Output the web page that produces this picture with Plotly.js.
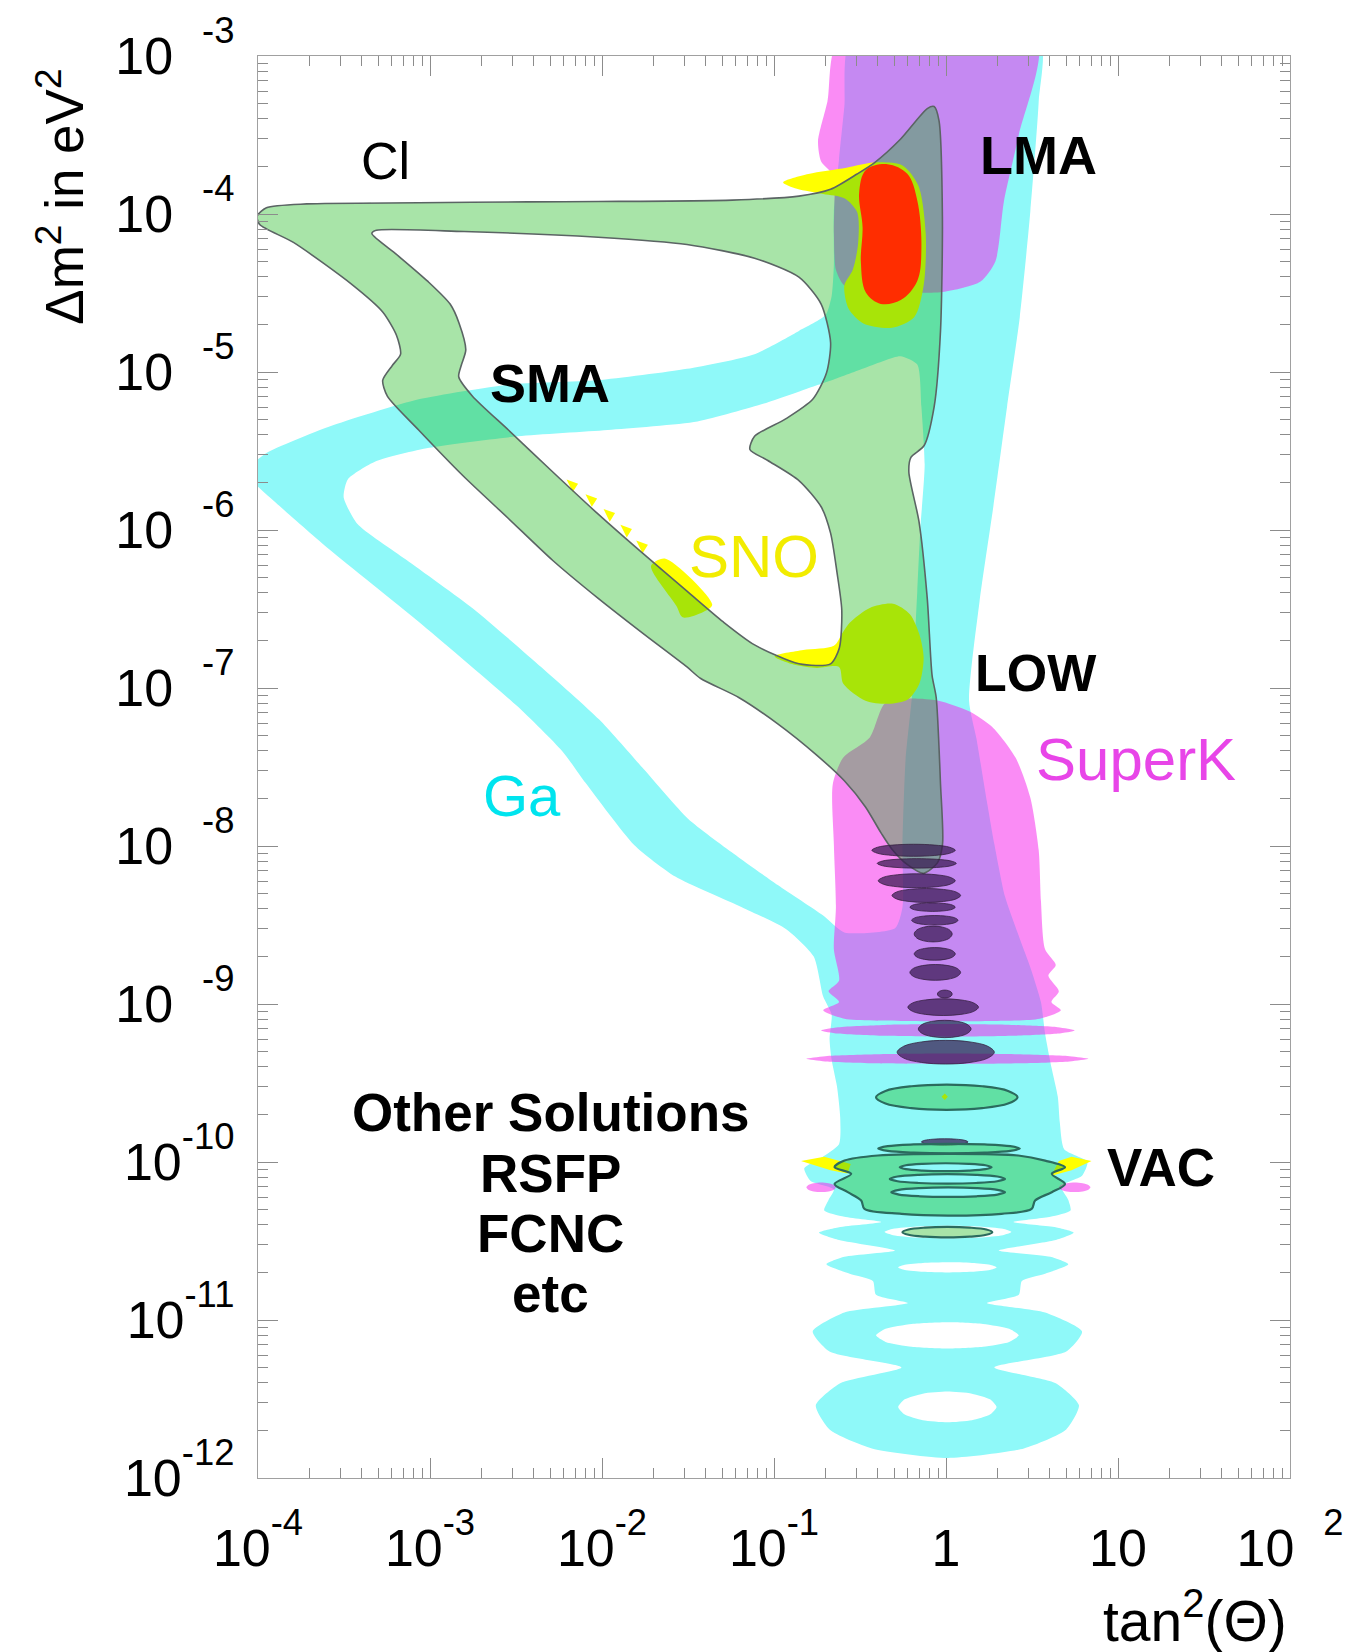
<!DOCTYPE html>
<html><head><meta charset="utf-8">
<script src="https://cdn.plot.ly/plotly-3.0.1.min.js"></script>
<style>html,body{margin:0;padding:0;background:#fff}.js-fill{fill-rule:evenodd !important}</style>
</head><body><div id="chart" style="width:1349px;height:1652px"></div>
<script>
// ---------- DATA (log10 of tan^2(theta), log10 of dm^2 in eV^2) ----------
const EXP = (e) => '<sup><span style="baseline-shift:9px">' + e + '</span></sup>';
const xTickVals = [1e-4, 1e-3, 1e-2, 1e-1, 1, 10, 100];
const xTickText = ['10' + EXP('-4'), '10' + EXP('-3'), '10' + EXP('-2'), '10' + EXP('-1'), '1', '10', '10\u00a0\u00a0' + EXP('2')];
const yTickVals = [1e-12, 1e-11, 1e-10, 1e-9, 1e-8, 1e-7, 1e-6, 1e-5, 1e-4, 1e-3];
const yTickText = ['10' + EXP('-12'), '10' + EXP('-11'), '10' + EXP('-10'), '10\u00a0\u00a0' + EXP('-9'), '10\u00a0\u00a0' + EXP('-8'),
  '10\u00a0\u00a0' + EXP('-7'), '10\u00a0\u00a0' + EXP('-6'), '10\u00a0\u00a0' + EXP('-5'), '10\u00a0\u00a0' + EXP('-4'), '10\u00a0\u00a0' + EXP('-3')];

// Ga (cyan) allowed region: outer contour
const gaOuter = [[-0.554,-2.9],[0.545,-2.9],[0.539,-3.287],[0.490,-3.987],[0.429,-4.653],[0.355,-5.220],[0.275,-5.853],[0.195,-6.453],[0.134,-7.080],[0.177,-7.320],[0.238,-7.720],[0.281,-7.987],[0.343,-8.320],[0.429,-8.587],[0.490,-8.767],[0.552,-8.987],[0.576,-9.187],[0.613,-9.400],[0.650,-9.587],[0.662,-9.753],[0.687,-9.920],[0.822,-10.000],[0.791,-10.087],[0.668,-10.153],[0.711,-10.240],[0.724,-10.307],[0.607,-10.347],[0.392,-10.380],[0.638,-10.413],[0.742,-10.447],[0.638,-10.493],[0.306,-10.560],[0.607,-10.600],[0.711,-10.647],[0.576,-10.707],[0.441,-10.753],[0.423,-10.840],[0.238,-10.893],[0.576,-10.953],[0.791,-11.073],[0.699,-11.200],[0.281,-11.300],[0.638,-11.400],[0.773,-11.540],[0.699,-11.693],[0.453,-11.813],[0.011,-11.873],[-0.431,-11.813],[-0.677,-11.693],[-0.757,-11.540],[-0.615,-11.400],[-0.259,-11.300],[-0.677,-11.200],[-0.775,-11.073],[-0.591,-10.953],[-0.222,-10.893],[-0.407,-10.840],[-0.425,-10.753],[-0.560,-10.707],[-0.695,-10.647],[-0.591,-10.600],[-0.296,-10.560],[-0.622,-10.493],[-0.738,-10.447],[-0.622,-10.413],[-0.376,-10.380],[-0.591,-10.347],[-0.708,-10.307],[-0.683,-10.240],[-0.652,-10.173],[-0.787,-10.120],[-0.824,-10.040],[-0.726,-9.973],[-0.622,-9.887],[-0.615,-9.720],[-0.634,-9.520],[-0.665,-9.353],[-0.677,-9.220],[-0.665,-9.067],[-0.714,-8.953],[-0.769,-8.700],[-0.929,-8.527],[-1.187,-8.387],[-1.574,-8.193],[-1.813,-7.993],[-2.096,-7.600],[-2.231,-7.400],[-2.495,-7.113],[-3.066,-6.580],[-3.588,-6.120],[-3.896,-5.827],[-4.03,-5.687],[-4.03,-5.587],[-3.951,-5.513],[-3.588,-5.347],[-3.066,-5.173],[-2.544,-5.080],[-2.028,-5.053],[-1.506,-4.980],[-1.113,-4.887],[-0.855,-4.740],[-0.701,-4.640],[-0.665,-4.520],[-0.652,-4.320],[-0.652,-3.987],[-0.622,-3.653],[-0.591,-3.320]];
// Ga: big inner hole
const gaHole = [[-3.502,-5.793],[-3.478,-5.680],[-3.318,-5.567],[-3.005,-5.480],[-2.489,-5.407],[-1.967,-5.367],[-1.445,-5.313],[-1.058,-5.200],[-0.775,-5.093],[-0.652,-5.047],[-0.468,-4.973],[-0.265,-4.900],[-0.167,-4.953],[-0.143,-5.220],[-0.124,-5.587],[-0.149,-5.987],[-0.167,-6.387],[-0.185,-6.787],[-0.198,-7.053],[-0.235,-7.453],[-0.253,-7.987],[-0.253,-8.387],[-0.296,-8.520],[-0.591,-8.547],[-0.714,-8.440],[-0.978,-8.247],[-1.236,-8.047],[-1.500,-7.827],[-1.758,-7.513],[-2.016,-7.200],[-2.354,-6.867],[-2.747,-6.500],[-3.140,-6.187],[-3.423,-5.960]];
// Ga: ring holes [left, right, centre, half-height]
const gaRingHoles = [[-0.407,0.423,-11.097,0.083],[-0.278,0.294,-11.550,0.097],[-0.278,0.294,-10.667,0.032],[-0.357,0.380,-10.443,0.040]];

// SuperK (magenta)
const skTop = [[-0.622,-2.9],[-0.689,-3.287],[-0.744,-3.540],[-0.726,-3.667],[-0.658,-3.753],[-0.652,-4.120],[-0.640,-4.353],[-0.591,-4.453],[-0.468,-4.487],[-0.020,-4.493],[0.201,-4.427],[0.287,-4.300],[0.337,-3.920],[0.423,-3.500],[0.527,-2.9]];
const skLower = [[-0.658,-7.607],[-0.597,-7.440],[-0.443,-7.313],[-0.357,-7.100],[-0.222,-7.067],[-0.044,-7.080],[0.134,-7.147],[0.269,-7.247],[0.404,-7.440],[0.490,-7.693],[0.539,-8.027],[0.552,-8.347],[0.576,-8.653],[0.638,-8.753],[0.595,-8.820],[0.656,-8.920],[0.613,-8.987],[0.668,-9.040],[0.545,-9.093],[0.269,-9.107],[-0.222,-9.107],[-0.591,-9.093],[-0.714,-9.040],[-0.622,-8.987],[-0.683,-8.920],[-0.622,-8.853],[-0.652,-8.653],[-0.640,-8.387],[-0.652,-7.987]];
const skBands = [[-0.726,0.748,-9.167,0.040],[-0.812,0.828,-9.347,0.033],[-0.812,-0.640,-10.160,0.030],[0.656,0.840,-10.160,0.030]];

// SNO (yellow)
const snoLMA = [[-0.947,-3.800],[-0.800,-3.747],[-0.579,-3.707],[-0.407,-3.673],[-0.253,-3.693],[-0.161,-3.820],[-0.118,-4.120],[-0.130,-4.453],[-0.185,-4.653],[-0.314,-4.720],[-0.480,-4.693],[-0.566,-4.600],[-0.591,-4.453],[-0.542,-4.353],[-0.511,-4.187],[-0.517,-3.987],[-0.591,-3.900],[-0.714,-3.873],[-0.867,-3.840]];
const snoLOW = [[-0.996,-6.800],[-0.830,-6.760],[-0.652,-6.733],[-0.603,-6.653],[-0.560,-6.587],[-0.443,-6.493],[-0.308,-6.467],[-0.210,-6.533],[-0.155,-6.660],[-0.130,-6.807],[-0.155,-6.973],[-0.222,-7.073],[-0.333,-7.100],[-0.468,-7.080],[-0.597,-6.973],[-0.622,-6.867],[-0.751,-6.873],[-0.880,-6.853]];
const snoSMA = [[-1.715,-6.227],[-1.635,-6.180],[-1.359,-6.473],[-1.414,-6.520],[-1.531,-6.553],[-1.568,-6.480]];
const snoBits = [
  [[-2.206,-5.680],[-2.139,-5.707],[-2.170,-5.760]],
  [[-2.096,-5.773],[-2.028,-5.800],[-2.059,-5.853]],
  [[-1.991,-5.867],[-1.924,-5.893],[-1.955,-5.947]],
  [[-1.893,-5.967],[-1.826,-5.993],[-1.856,-6.047]],
  [[-1.801,-6.067],[-1.733,-6.093],[-1.764,-6.147]],
  [[-0.843,-9.993],[-0.708,-9.967],[-0.554,-10.013],[-0.572,-10.073],[-0.671,-10.053]],
  [[0.613,-10.087],[0.656,-9.993],[0.730,-9.967],[0.846,-9.993],[0.730,-10.053]],
  [[-0.026,-9.587],[-0.007,-9.567],[0.011,-9.587],[-0.007,-9.607]]
];

// Cl (green) allowed region
const clOuter = [[-4.005,-4.013],[-3.951,-3.960],[-3.717,-3.936],[-3.066,-3.929],[-2.434,-3.923],[-2.022,-3.921],[-1.242,-3.912],[-0.855,-3.887],[-0.671,-3.844],[-0.517,-3.747],[-0.413,-3.673],[-0.265,-3.527],[-0.109,-3.333],[-0.069,-3.320],[-0.041,-3.407],[-0.021,-4.013],[-0.032,-4.740],[-0.069,-5.220],[-0.128,-5.467],[-0.204,-5.540],[-0.216,-5.633],[-0.157,-5.947],[-0.109,-6.433],[-0.081,-6.920],[-0.057,-7.060],[-0.032,-7.607],[-0.020,-7.987],[-0.050,-8.107],[-0.130,-8.173],[-0.222,-8.120],[-0.314,-8.020],[-0.376,-7.920],[-0.468,-7.753],[-0.591,-7.587],[-0.757,-7.420],[-0.978,-7.227],[-1.205,-7.060],[-1.426,-6.940],[-1.506,-6.867],[-1.764,-6.653],[-2.022,-6.433],[-2.286,-6.193],[-2.544,-5.927],[-2.805,-5.660],[-3.066,-5.367],[-3.248,-5.153],[-3.275,-5.053],[-3.220,-4.960],[-3.171,-4.887],[-3.195,-4.767],[-3.275,-4.620],[-3.453,-4.447],[-3.794,-4.180],[-3.990,-4.067]];
const clHole = [[-3.338,-4.123],[-3.312,-4.103],[-2.802,-4.111],[-2.022,-4.147],[-1.506,-4.193],[-1.113,-4.280],[-0.855,-4.400],[-0.726,-4.570],[-0.671,-4.813],[-0.695,-5.007],[-0.775,-5.173],[-0.932,-5.297],[-1.113,-5.407],[-1.140,-5.490],[-1.036,-5.560],[-0.855,-5.687],[-0.726,-5.853],[-0.671,-6.020],[-0.634,-6.267],[-0.606,-6.507],[-0.620,-6.747],[-0.671,-6.847],[-0.855,-6.847],[-1.113,-6.727],[-1.297,-6.580],[-1.506,-6.387],[-1.764,-6.147],[-2.022,-5.900],[-2.286,-5.633],[-2.544,-5.367],[-2.753,-5.153],[-2.833,-5.030],[-2.818,-4.957],[-2.792,-4.860],[-2.831,-4.691],[-2.883,-4.570],[-3.014,-4.425],[-3.195,-4.255]];
// Cl oscillating thin bands [left, right, centre, half-height]
const clStripes = [[-0.431,0.054,-8.027,0.038],[-0.400,0.060,-8.110,0.030],[-0.394,0.054,-8.220,0.044],[-0.314,0.085,-8.313,0.044],[-0.210,0.054,-8.387,0.027],[-0.200,0.070,-8.470,0.030],[-0.185,0.036,-8.557,0.050],[-0.185,0.054,-8.683,0.040],[-0.210,0.085,-8.800,0.050],[-0.050,0.036,-8.937,0.025],[-0.222,0.189,-9.020,0.053],[-0.161,0.146,-9.158,0.055],[-0.284,0.281,-9.305,0.075],[-0.143,0.128,-9.873,0.020]];
const clIslands = [[-0.407,0.416,-9.590,0.080],[-0.394,0.429,-9.915,0.030],[-0.253,0.269,-10.444,0.033]];
const clVac = [[-0.648,-10.033],[-0.551,-10.075],[-0.648,-10.139],[-0.571,-10.191],[-0.493,-10.244],[-0.474,-10.297],[-0.259,-10.328],[0.012,-10.339],[0.323,-10.328],[0.498,-10.297],[0.518,-10.244],[0.615,-10.191],[0.692,-10.139],[0.615,-10.075],[0.692,-10.033],[0.576,-9.991],[0.420,-9.959],[0.012,-9.949],[-0.396,-9.959],[-0.590,-9.991]];
const clVacHoles = [[-0.269,0.265,-10.033,0.025],[-0.327,0.343,-10.107,0.030],[-0.318,0.343,-10.191,0.030]];

// Combined best fit (red)
const lmaBest = [[-0.340,-3.685],[-0.225,-3.746],[-0.167,-3.915],[-0.143,-4.206],[-0.167,-4.424],[-0.263,-4.545],[-0.379,-4.569],[-0.466,-4.497],[-0.495,-4.303],[-0.485,-4.085],[-0.505,-3.867],[-0.466,-3.722]];

// Region labels [text, log x, log y, size, colour, bold]
const labels = [
  ['Cl', -3.257, -3.667, 52, '#000', false],
  ['LMA', 0.539, -3.627, 54, '#000', true],
  ['SMA', -2.305, -5.067, 54, '#000', true],
  ['SNO', -1.119, -6.167, 60, '#f2ec00', false],
  ['LOW', 0.521, -6.907, 52, '#000', true],
  ['SuperK', 1.104, -7.453, 60, '#e845e8', false],
  ['Ga', -2.464, -7.680, 58, '#00e4ee', false],
  ['Other Solutions', -2.298, -9.687, 53, '#000', true],
  ['RSFP', -2.298, -10.070, 53, '#000', true],
  ['FCNC', -2.298, -10.453, 53, '#000', true],
  ['etc', -2.298, -10.833, 53, '#000', true],
  ['VAC', 1.252, -10.033, 53, '#000', true]
];

// ---------- BUILD ----------
const FONT = 'Liberation Sans, Arial, Helvetica, sans-serif';
// ellipse-like outline through 12 points of a box [left, right, centre, half-height]
const LENS_U = [1, 0.866, 0.5, 0, -0.5, -0.866, -1, -0.866, -0.5, 0, 0.5, 0.866];
const LENS_V = [0, 0.5, 0.866, 1, 0.866, 0.5, 0, -0.5, -0.866, -1, -0.866, -0.5];
function lens(a) {
  const [xl, xr, yc, h] = a, hw = (xr - xl) / 2, m = (xl + xr) / 2;
  return LENS_U.map((u, i) => [m + u * hw, yc + LENS_V[i] * h]);
}
function toXY(polys) {
  const x = [], y = [];
  polys.forEach((p, i) => {
    if (i) { x.push(null); y.push(null); }
    p.forEach(([a, b]) => { x.push(Math.pow(10, a)); y.push(Math.pow(10, b)); });
    x.push(Math.pow(10, p[0][0])); y.push(Math.pow(10, p[0][1]));
  });
  return {x, y};
}
function area(polys, fill, line, shape, smooth) {
  const d = toXY(polys);
  return {type: 'scatter', mode: 'lines', x: d.x, y: d.y, fill: 'toself', fillcolor: fill,
    line: Object.assign({width: 0, shape: shape || 'spline', smoothing: smooth === undefined ? 0.8 : smooth}, line || {}),
    hoverinfo: 'skip', showlegend: false, connectgaps: false};
}

const traces = [
  area([gaOuter, gaHole].concat(gaRingHoles.map(lens)), '#8ff9f9', null, 'spline', 0.6),
  area([skTop, skLower].concat(skBands.map(lens)), 'rgba(246,38,236,0.53)', null, 'spline', 0.7),
  area([snoLMA, snoLOW, snoSMA], '#ffff00', null, 'spline', 0.8),
  area(snoBits, '#ffff00', null, 'linear'),
  area([clOuter, clHole], 'rgba(22,183,22,0.374)', {color: '#5b6464', width: 1.6}, 'spline', 0.7),
  area(clStripes.map(lens), 'rgba(55,25,80,0.72)', {color: 'rgba(50,30,60,0.85)', width: 0.9}, 'spline', 1),
  area(clIslands.map(lens), 'rgba(22,183,22,0.374)', {color: '#2b6b5e', width: 2.2}, 'spline', 1),
  area([clVac].concat(clVacHoles.map(lens)), 'rgba(22,183,22,0.374)', {color: '#2b6b5e', width: 2.2}, 'spline', 0.9),
  area([lmaBest], '#ff2d00', null, 'spline', 1)
];

const annotations = labels.map(([t, x, y, s, c, b]) => ({
  text: b ? '<b>' + t + '</b>' : t, x: x, y: y, xref: 'x', yref: 'y', showarrow: false,
  xanchor: 'center', yanchor: 'middle', font: {family: FONT, size: s, color: c}
}));
annotations.push({text: '\u0394m<sup>2</sup> in eV<sup>2</sup>', textangle: -90, xref: 'paper', yref: 'paper',
  x: -0.1909, y: 0.9010, xanchor: 'center', yanchor: 'middle', showarrow: false, font: {family: FONT, size: 53, color: '#000'}});
annotations.push({text: 'tan<sup>2</sup>(\u0398)', xref: 'paper', yref: 'paper', x: 0.999, y: -0.0975,
  xanchor: 'right', yanchor: 'middle', showarrow: false, font: {family: FONT, size: 57, color: '#000'}});

const axisCommon = {
  type: 'log', tickmode: 'array', ticks: 'inside', ticklen: 20, tickwidth: 1, tickcolor: '#8c8c8c',
  showline: true, linecolor: '#a0a0a0', linewidth: 1.2, mirror: 'ticks', showgrid: false, zeroline: false,
  tickfont: {family: FONT, size: 52, color: '#000'},
  minor: {ticks: 'inside', ticklen: 10, tickwidth: 1, tickcolor: '#8c8c8c', dtick: 'D1', showgrid: false}
};
const layout = {
  width: 1349, height: 1652, paper_bgcolor: '#fff', plot_bgcolor: '#fff',
  margin: {l: 258, r: 59, t: 56, b: 174},
  xaxis: Object.assign({}, axisCommon, {range: [-4, 2], tickvals: xTickVals, ticktext: xTickText, ticklabelstandoff: 24}),
  yaxis: Object.assign({}, axisCommon, {range: [-12, -3], tickvals: yTickVals, ticktext: yTickText, ticklabelstandoff: 12}),
  shapes: [{type: 'line', xref: 'x', yref: 'paper', x0: 0, x1: 0, y0: 0, y1: 1, layer: 'above',
    line: {color: '#6d8fa5', width: 1.5, dash: 'dash'}}],
  annotations: annotations,
  showlegend: false
};
Plotly.newPlot('chart', traces, layout, {staticPlot: true});
</script></body></html>
